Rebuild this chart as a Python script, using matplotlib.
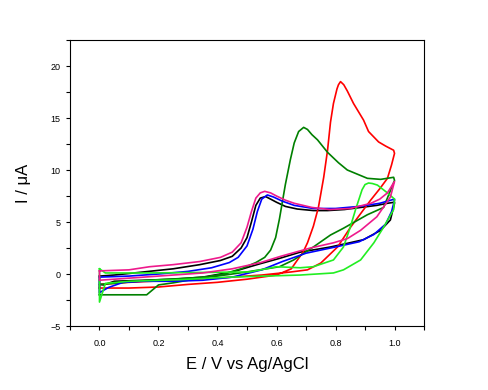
import numpy as np
from matplotlib import pyplot as plt
from matplotlib.ticker import MultipleLocator

plt.rcParams['font.family'] = ['Liberation Sans', 'DejaVu Sans']

# --- cyclic voltammograms (E in V, I in uA) ---
# black
blk_E_f = [0.0, 0.05, 0.15, 0.25, 0.34, 0.41, 0.45, 0.48, 0.50, 0.515, 0.53, 0.545, 0.563, 0.58, 0.60, 0.63, 0.67, 0.725, 0.773, 0.83, 0.885, 0.94, 0.976, 1.0]
blk_I_f = [-0.2, -0.1, 0.2, 0.5, 0.9, 1.3, 1.7, 2.5, 3.5, 5.0, 6.6, 7.3, 7.45, 7.2, 6.9, 6.5, 6.25, 6.1, 6.1, 6.2, 6.4, 6.6, 6.8, 6.9]
blk_E_r = [1.0, 0.986, 0.953, 0.895, 0.84, 0.783, 0.68, 0.61, 0.546, 0.45, 0.35, 0.25, 0.15, 0.05, 0.014, 0.0]
blk_I_r = [6.8, 5.2, 4.2, 3.3, 2.95, 2.6, 2.1, 1.5, 1.0, 0.2, -0.3, -0.5, -0.6, -0.7, -1.05, -1.0]

# blue
blu_E_f = [0.0, 0.1, 0.2, 0.3, 0.38, 0.44, 0.47, 0.50, 0.52, 0.535, 0.55, 0.569, 0.59, 0.62, 0.66, 0.725, 0.8, 0.88, 0.95, 1.0]
blu_I_f = [-0.3, -0.2, 0.0, 0.25, 0.6, 1.1, 1.6, 2.7, 4.3, 6.0, 7.2, 7.6, 7.4, 7.0, 6.6, 6.3, 6.3, 6.5, 6.8, 7.2]
blu_E_r = [1.0, 0.99, 0.97, 0.93, 0.88, 0.8, 0.7, 0.62, 0.55, 0.45, 0.35, 0.25, 0.15, 0.08, 0.03, 0.0]
blu_I_r = [7.1, 6.0, 4.8, 3.8, 3.1, 2.6, 2.0, 1.2, 0.4, -0.3, -0.6, -0.7, -0.7, -0.8, -1.3, -1.8]

# magenta
mag_E_f = [0.0, 0.1, 0.17, 0.25, 0.34, 0.41, 0.45, 0.48, 0.50, 0.515, 0.53, 0.545, 0.56, 0.58, 0.60, 0.63, 0.66, 0.72, 0.78, 0.85, 0.92, 0.95, 0.976, 1.0]
mag_I_f = [0.3, 0.4, 0.7, 0.9, 1.2, 1.6, 2.1, 3.0, 4.5, 6.0, 7.3, 7.8, 7.95, 7.8, 7.5, 7.1, 6.8, 6.4, 6.2, 6.3, 6.8, 7.2, 7.8, 8.9]
mag_E_r = [1.0, 0.986, 0.94, 0.885, 0.84, 0.793, 0.715, 0.614, 0.546, 0.45, 0.35, 0.2, 0.1, 0.0]
mag_I_r = [8.9, 7.4, 5.5, 4.2, 3.4, 3.0, 2.5, 1.7, 1.1, 0.5, 0.1, -0.2, -0.4, -0.6]

# red
red_E_f = [0.0, 0.1, 0.2, 0.3, 0.4, 0.5, 0.6, 0.65, 0.671, 0.69, 0.705, 0.725, 0.742, 0.76, 0.773, 0.783, 0.793, 0.805, 0.81, 0.817, 0.828, 0.84, 0.861, 0.895, 0.912, 0.946, 0.97, 0.997]
red_I_f = [-1.35, -1.35, -1.25, -1.0, -0.8, -0.5, -0.1, 0.5, 1.35, 2.1, 3.0, 4.6, 6.4, 9.3, 11.9, 14.6, 16.4, 17.8, 18.2, 18.5, 18.2, 17.6, 16.4, 14.8, 13.7, 12.7, 12.3, 11.9]
red_E_r = [1.0, 0.99, 0.976, 0.95, 0.919, 0.851, 0.807, 0.75, 0.705, 0.65, 0.55, 0.4, 0.25, 0.1, 0.0]
red_I_r = [11.6, 10.5, 9.2, 8.2, 7.1, 4.5, 2.6, 1.05, 0.4, 0.2, -0.1, -0.4, -0.6, -0.8, -1.0]

# dark green
dgr_E_f = [0.0, 0.16, 0.2, 0.25, 0.34, 0.42, 0.48, 0.53, 0.56, 0.58, 0.597, 0.61, 0.63, 0.647, 0.66, 0.675, 0.692, 0.705, 0.72, 0.739, 0.773, 0.81, 0.84, 0.908, 0.953, 0.997]
dgr_I_f = [-2.0, -2.0, -1.05, -0.85, -0.4, 0.0, 0.5, 1.1, 1.6, 2.3, 3.5, 5.3, 8.6, 11.0, 12.6, 13.7, 14.1, 13.9, 13.4, 12.9, 11.7, 10.7, 10.0, 9.2, 9.1, 9.3]
dgr_E_r = [1.0, 0.963, 0.908, 0.827, 0.783, 0.725, 0.658, 0.61, 0.5, 0.4, 0.3, 0.17, 0.05, 0.0]
dgr_I_r = [9.0, 6.4, 5.7, 4.4, 3.75, 2.6, 1.35, 0.7, 0.2, -0.2, -0.4, -0.6, -0.9, -1.0]

# bright green
lgr_E_f = [0.0, 0.02, 0.17, 0.35, 0.51, 0.6, 0.68, 0.725, 0.793, 0.827, 0.85, 0.868, 0.89, 0.90, 0.912, 0.925, 0.942, 0.976, 1.0]
lgr_I_f = [0.5, 0.1, 0.1, 0.15, 0.2, 0.7, 0.6, 0.7, 1.35, 2.6, 4.5, 6.2, 8.1, 8.6, 8.75, 8.7, 8.55, 7.8, 7.2]
lgr_E_r = [0.997, 0.963, 0.93, 0.885, 0.827, 0.793, 0.68, 0.44, 0.27, 0.1, 0.02, 0.0]
lgr_I_r = [6.2, 4.5, 3.0, 1.35, 0.4, 0.1, -0.1, -0.3, -0.55, -0.7, -0.9, -2.7]

curves = [
    (blk_E_f + blk_E_r, blk_I_f + blk_I_r, 'black'),
    (red_E_f + red_E_r, red_I_f + red_I_r, '#ff0000'),
    (dgr_E_f + dgr_E_r, dgr_I_f + dgr_I_r, '#008000'),
    (blu_E_f + blu_E_r, blu_I_f + blu_I_r, '#0000ff'),
    (lgr_E_f + lgr_E_r, lgr_I_f + lgr_I_r, '#22ee22'),
    (mag_E_f + mag_E_r, mag_I_f + mag_I_r, '#ee1a8c'),
]

fig = plt.figure(figsize=(4.88, 3.90), dpi=100)
ax = fig.add_axes([0.1434, 0.1641, 0.7255, 0.7333])

for E, I, c in curves:
    ax.plot(E + [E[0]], I + [I[0]], color=c, lw=1.2)

ax.set_xlim(-0.1, 1.1)
ax.set_ylim(-5, 22.5)
ax.xaxis.set_major_locator(MultipleLocator(0.2))
ax.xaxis.set_minor_locator(MultipleLocator(0.1))
ax.yaxis.set_major_locator(MultipleLocator(5))
ax.yaxis.set_minor_locator(MultipleLocator(2.5))
ax.tick_params(which='both', direction='out', length=3, width=0.8, labelsize=6.5, top=False, right=False)
ax.tick_params(axis='x', pad=6)
ax.tick_params(axis='y', pad=4)
ax.set_xticks([0.0, 0.2, 0.4, 0.6, 0.8, 1.0])
ax.set_xticklabels(['0.0', '0.2', '0.4', '0.6', '0.8', '1.0'])
for s in ax.spines.values():
    s.set_linewidth(0.8)

ax.set_xlabel('E / V vs Ag/AgCl', fontsize=12, labelpad=7)
ax.set_ylabel('I / μA', fontsize=12, labelpad=14)

fig.savefig('out.png', dpi=100)
